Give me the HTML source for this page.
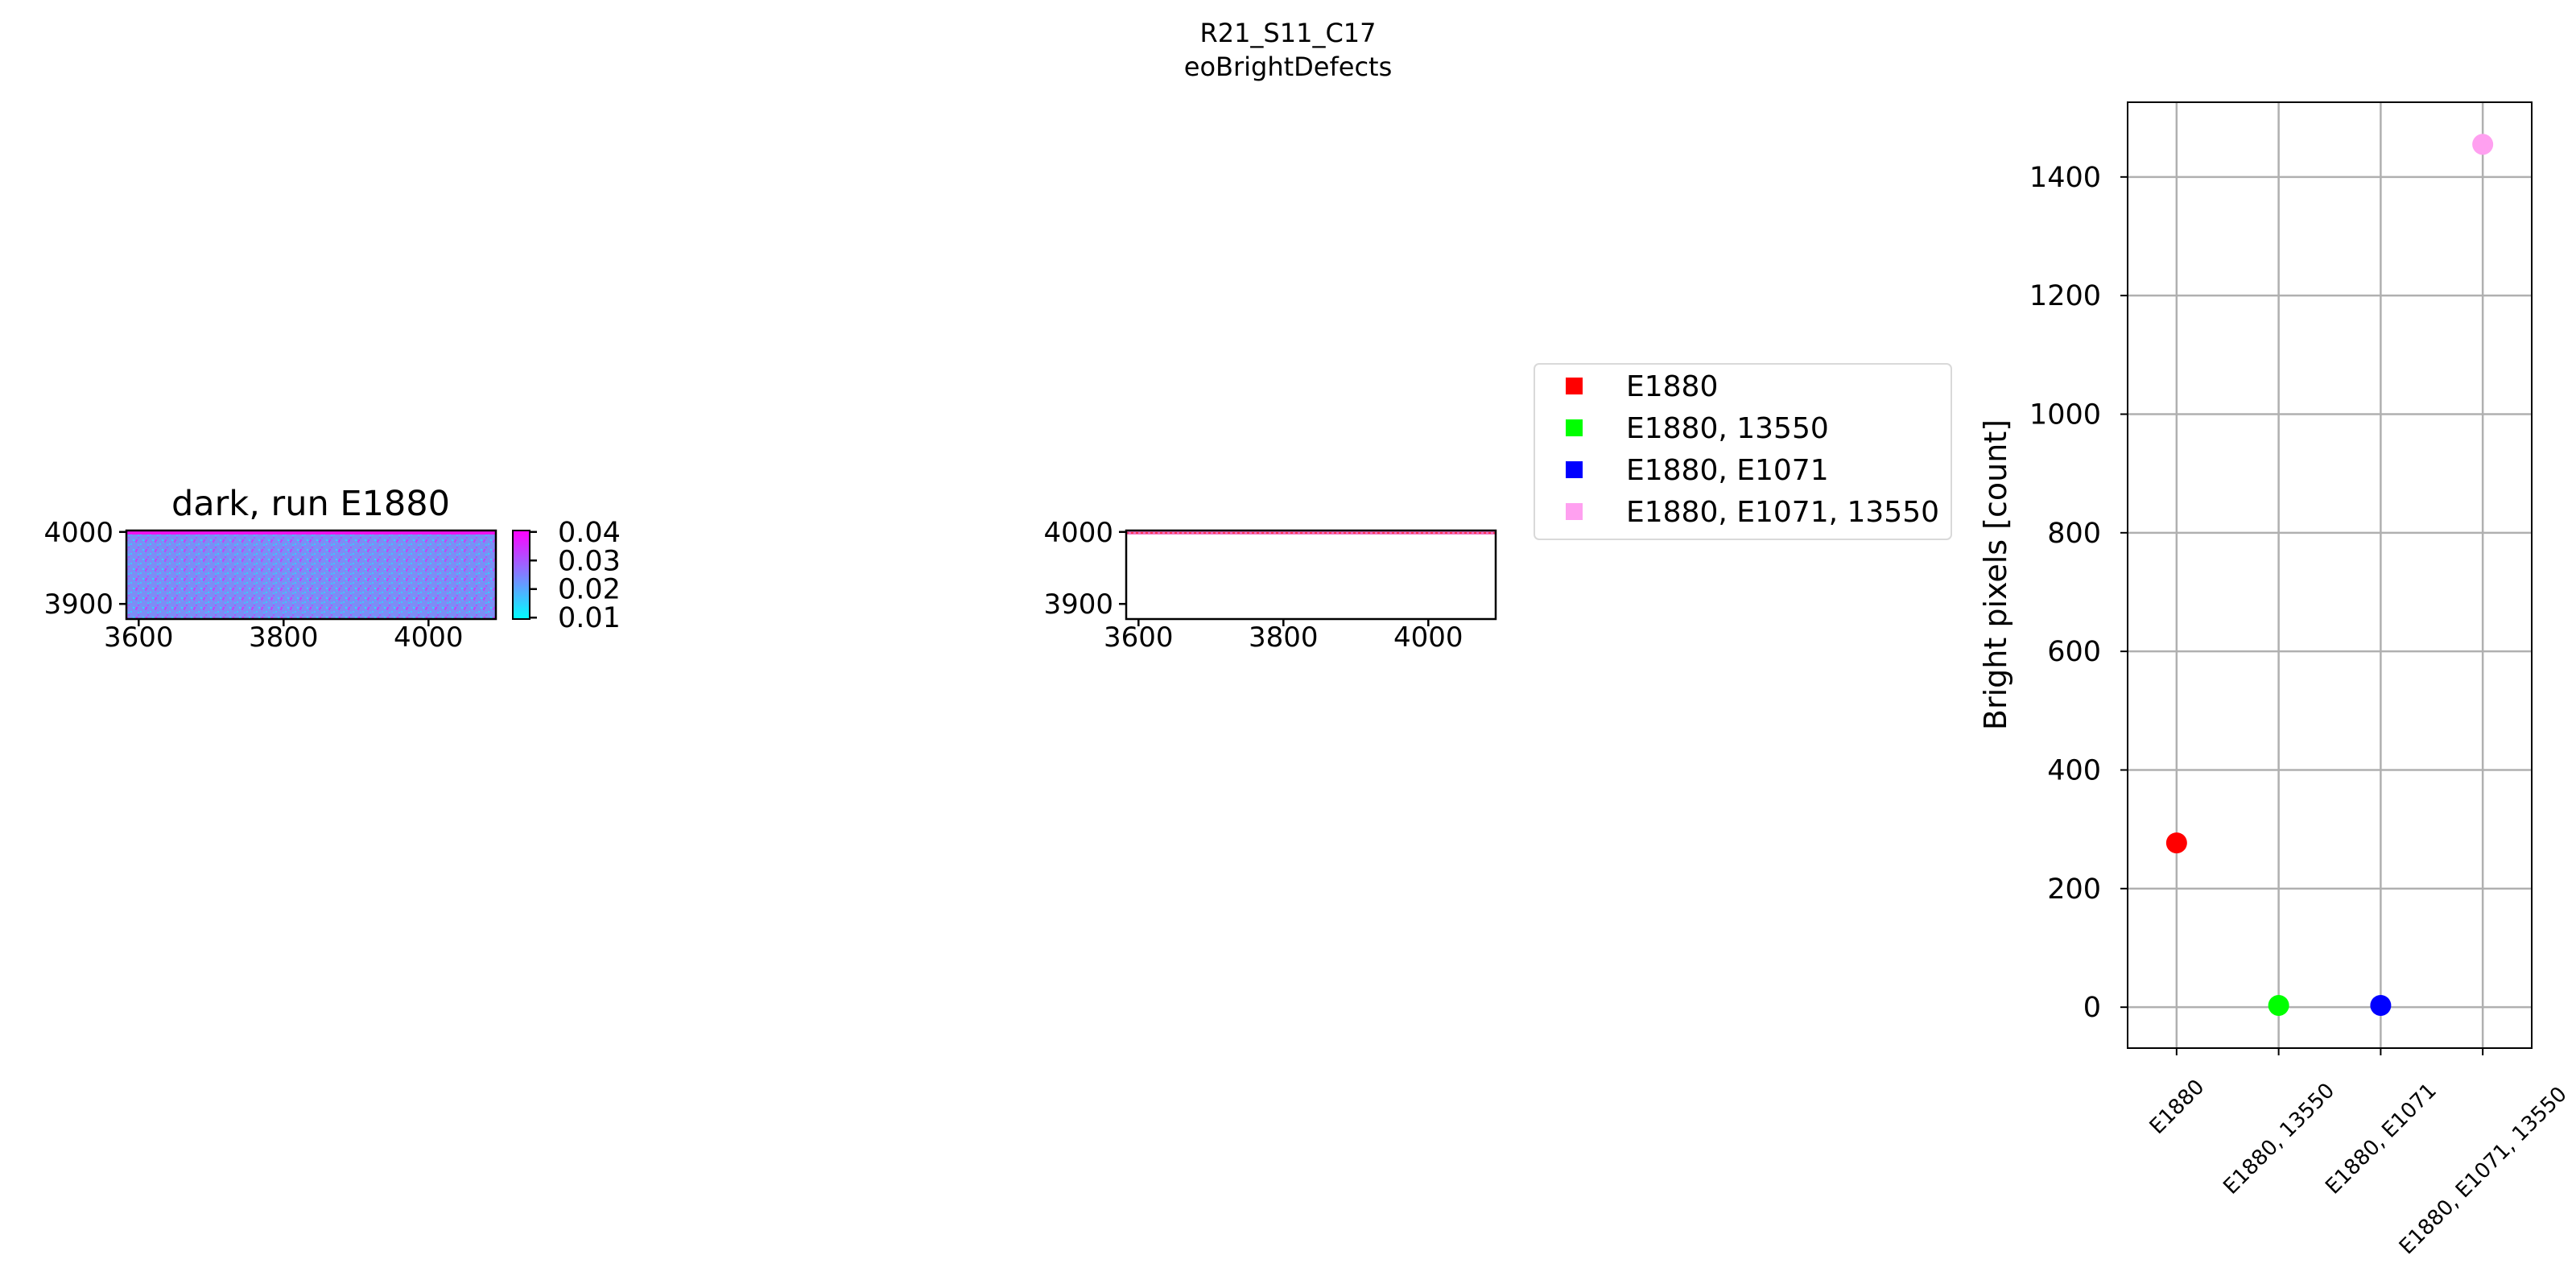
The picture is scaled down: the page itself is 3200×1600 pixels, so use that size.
<!DOCTYPE html>
<html><head><meta charset="utf-8">
<style>
html,body{margin:0;padding:0;background:#fff;}
svg{display:block;font-family:"DejaVu Sans","Liberation Sans",sans-serif;}
</style></head>
<body>
<svg id="fig" width="3200" height="1600" viewBox="0 0 3200 1600" xmlns="http://www.w3.org/2000/svg">
<defs>
  <linearGradient id="cool" x1="0" y1="1" x2="0" y2="0">
    <stop offset="0" stop-color="#00ffff"/><stop offset="1" stop-color="#ff00ff"/>
  </linearGradient>
  <pattern id="noise" width="12" height="12" patternUnits="userSpaceOnUse">
    <rect width="12" height="12" fill="#7d8cf6"/>
    <rect x="0" y="0" width="2" height="2" fill="#c246f7"/>
    <rect x="6" y="3" width="2" height="2" fill="#3fc6fb"/>
    <rect x="3" y="7" width="2" height="2" fill="#a85cf8"/>
    <rect x="9" y="10" width="2" height="2" fill="#2fd8fc"/>
    <rect x="10" y="1" width="2" height="2" fill="#5aa8f9"/>
    <rect x="1" y="10" width="2" height="2" fill="#d238f7"/>
    <rect x="7" y="8" width="2" height="2" fill="#6c9af8"/>
    <rect x="3" y="4" width="2" height="2" fill="#48bafa"/>
  </pattern>
</defs>
<text x="1600" y="52" font-size="32" text-anchor="middle">R21_S11_C17</text>
<text x="1600" y="94" font-size="32" text-anchor="middle">eoBrightDefects</text>
<g id="left"></g>
<g id="mid"></g>
<g id="legend"></g>
<g id="right"></g>
</svg>
<script>
const NS='http://www.w3.org/2000/svg';
const imgXTicks=[3600,3800,4000];
const imgYTicks=[3900,4000];
const imgXDomain=[3583,4093];
const imgYDomain=[3879,4002];
const cbTicks=[0.01,0.02,0.03,0.04];
const cbDomain=[0.0095,0.0405];
const categories=['E1880','E1880, 13550','E1880, E1071','E1880, E1071, 13550'];
const counts=[277,3,3,1455];
const colors=['#ff0000','#00ff00','#0000ff','#ffa0f0'];
const yTicks=[0,200,400,600,800,1000,1200,1400];
const yDomain=[-69,1526];

function mk(tag,attrs,parent,text){const e=document.createElementNS(NS,tag);for(const k in attrs)e.setAttribute(k,attrs[k]);if(text!==undefined)e.textContent=text;parent.appendChild(e);return e;}
function lin(d,r){return v=>r[0]+(v-d[0])/(d[1]-d[0])*(r[1]-r[0]);}

function imagePanel(g,x0,x1,y0,y1,kind){
  const sx=lin(imgXDomain,[x0,x1]), sy=lin(imgYDomain,[y1,y0]);
  if(kind==='dark'){
    const r=mk('rect',{x:x0,y:y0,width:x1-x0,height:y1-y0,fill:'url(#noise)'},g);
    
    
    const t=mk('rect',{x:x0,y:y0,width:x1-x0,height:5,fill:'#f010f0'},g);
    
    
  } else {
    const t=mk('rect',{x:x0,y:y0+1,width:x1-x0,height:4,fill:'#f070c0'},g);
    
    
    mk('line',{x1:x0,y1:y0+3,x2:x1,y2:y0+3,stroke:'#ff2030','stroke-width':1.5,'stroke-dasharray':'3 3'},g);
  }
  const f=mk('rect',{x:x0,y:y0,width:x1-x0,height:y1-y0,fill:'none',stroke:'#000','stroke-width':2.5},g);
  
  
  imgXTicks.forEach(v=>{const x=sx(v);
    mk('line',{x1:x,y1:y1,x2:x,y2:y1+9,stroke:'#000','stroke-width':2.5},g);
    const l=mk('text',{x:x,y:y1+34,'font-size':34,'text-anchor':'middle'},g,String(v));
    
    
  });
  imgYTicks.forEach(v=>{const y=sy(v);
    mk('line',{x1:x0,y1:y,x2:x0-9,y2:y,stroke:'#000','stroke-width':2.5},g);
    const l=mk('text',{x:x0-16,y:y+12,'font-size':34,'text-anchor':'end'},g,String(v));
    
    
  });
}
// left
const L=document.getElementById('left');
imagePanel(L,157,616,659,769,'dark');
const lt=mk('text',{x:386,y:640,'font-size':43,'text-anchor':'middle'},L,'dark, run E1880');


const cb=mk('rect',{x:637,y:659,width:21,height:110,fill:'url(#cool)',stroke:'#000','stroke-width':2},L);


const scb=lin(cbDomain,[769,659]);
cbTicks.forEach(v=>{const y=scb(v);
  mk('line',{x1:658,y1:y,x2:667,y2:y,stroke:'#000','stroke-width':2.5},L);
  const l=mk('text',{x:693,y:y+12,'font-size':35},L,v.toFixed(2));
  
  
});
// middle
imagePanel(document.getElementById('mid'),1399,1858,659,769,'defect');
// legend
const G=document.getElementById('legend');
const lb=mk('rect',{x:1906,y:452,width:518,height:218,rx:6,fill:'#fff',stroke:'#d9d9d9','stroke-width':2},G);


categories.forEach((c,i)=>{const y=480+i*52;
  const m=mk('rect',{x:1945,y:y-11,width:21,height:21,fill:colors[i]},G);
  
  
  const t=mk('text',{x:2020,y:y+12,'font-size':36},G,c);
  
  
});
// right chart
const R=document.getElementById('right');
const px0=2643,px1=3145,py0=127,py1=1302;
const sx=lin([-0.48,3.48],[px0,px1]), sy=lin(yDomain,[py1,py0]);
yTicks.forEach(v=>{const y=sy(v);
  mk('line',{x1:px0,y1:y,x2:px1,y2:y,stroke:'#b0b0b0','stroke-width':2.5},R);
  mk('line',{x1:px0,y1:y,x2:px0-9,y2:y,stroke:'#000','stroke-width':2},R);
  const l=mk('text',{x:2610,y:y+12,'font-size':35,'text-anchor':'end'},R,String(v));
  
  
});
categories.forEach((c,i)=>{const x=sx(i);
  mk('line',{x1:x,y1:py0,x2:x,y2:py1,stroke:'#b0b0b0','stroke-width':2.5},R);
  mk('line',{x1:x,y1:py1,x2:x,y2:py1+9,stroke:'#000','stroke-width':2},R);
  const w=c.length*16, h=26;
  const bh=(w+h)*Math.SQRT1_2;
  const cy=1337+bh/2;
  const t=mk('text',{x:x,y:cy+9,'font-size':26,'text-anchor':'middle',transform:`rotate(-45 ${x} ${cy})`},R,c);
  
  
});
const fr=mk('rect',{x:px0,y:py0,width:px1-px0,height:py1-py0,fill:'none',stroke:'#000','stroke-width':2},R);


counts.forEach((v,i)=>{
  const p=mk('circle',{cx:sx(i),cy:sy(v),r:13,fill:colors[i]},R);
  
  
});
const yl=mk('text',{x:2492,y:714,'font-size':38,'text-anchor':'middle',transform:'rotate(-90 2492 714)'},R,'Bright pixels [count]');


</script>
</body></html>
